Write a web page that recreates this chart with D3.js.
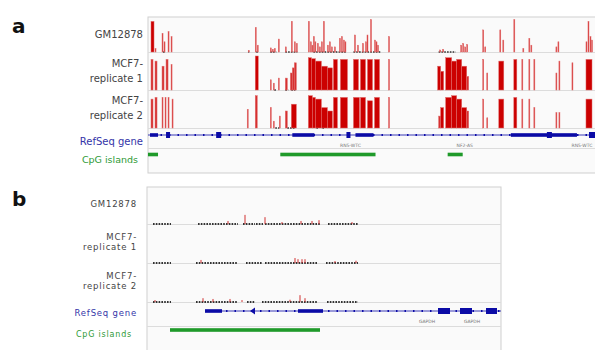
<!DOCTYPE html>
<html>
<head>
<meta charset="utf-8">
<script src="https://cdn.jsdelivr.net/npm/d3@7"></script>
<style>
  body { margin: 0; background: #fff; }
  text { font-family: "DejaVu Sans", sans-serif; }
</style>
</head>
<body>
<div id="chart"></div>
<script>
// track labels
const trackLabels = [["GM12878"], ["MCF7-", "replicate 1"], ["MCF7-", "replicate 2"]];
const geneLabel = "RefSeq gene";
const cpgLabel = "CpG islands";

// panel a: methylation bars [start, end, level], positions in kb from window start
const aGM = [[3,6,0.9],[7,8,0.1],[14,15,0.55],[16,17,0.3],[20,21,0.6],[23,24,0.45],[100,101,0.05],
  [107,108,0.72],[109,110,0.2],[122,123,0.12],[124,125,0.08],[126,127,0.1],[130,131,0.38],[137,138,0.15],
  [143,144,0.9],[146,147,0.3],[148,149,0.25],[160,161,0.9],[162,163,0.3],[163.5,164.5,0.2],[165,166,0.45],
  [166.5,167.5,0.3],[169,170,0.25],[171,172,0.15],[173,174,0.3],[175,176,0.9],[179,180,0.2],[181,182,0.3],
  [183,184,0.15],[186,187,0.15],[191,192,0.4],[193,194,0.45],[195,196,0.35],[196.5,197.5,0.3],
  [206,207,0.5],[209,210,0.2],[214,215,0.25],[217,218,0.3],[218.5,219.5,0.5],[222,223,0.95],
  [226,227,0.35],[227.5,228.5,0.3],[229,230,0.2],[240,241,0.45],[291,292,0.06],[294,295,0.08],
  [312,313,0.2],[314,315,0.25],[316,317,0.15],[318,319,0.22],[334,335,0.65],[336,337,0.15],[351,352,0.65],
  [354,355,0.35],[365,366,0.95],[374,375,0.1],[380,381,0.4],[382,383,0.2],[407,408,0.15],[409,410,0.3],
  [437,438,0.3],[439,440,0.9],[441,442,0.45],[442.5,443.5,0.35]];
const aRep1 = [[3,5,0.9],[7,9,0.85],[14,16,0.7],[18,20,0.9],[23,24,0.75],[107,110,1.0],
  [122,123,0.3],[125,126,0.2],[130,131,0.35],[137,139,0.35],[142,144,0.5],[144,146,0.65],[146,148,0.8],
  [160,163,0.95],[163,167,0.92],[167,173,0.85],[173,179,0.7],[179,184,0.65],[185,189,0.9],[192,199,0.9],
  [205,210,0.9],[212,217,0.9],[219,224,0.9],[226,231,0.9],[240,241,0.9],[289,292,0.7],[292,295,0.55],
  [297,303,0.95],[303,308,0.85],[308,313,0.9],[313,318,0.7],[318,320,0.4],
  [334,335,0.9],[338,339,0.5],[350,355,0.85],[365,368,0.9],[373,374,0.9],[380,381,0.9],[385,386,0.9],
  [407,408,0.5],[410,411,0.85],[423,424,0.8],[437,443,0.9]];
const aRep2 = [[3,5,0.85],[7,9,0.9],[14,15,0.9],[17,18,0.9],[20,21,0.9],[24,25,0.85],
  [99,100,0.55],[107,109,0.95],[122,123,0.6],[125,126,0.2],[131,132,0.35],[137,139,0.5],[143,148,0.7],
  [160,164,0.95],[164,167,0.9],[167,173,0.85],[173,179,0.6],[179,184,0.5],[185,189,0.9],[192,199,0.9],
  [205,211,0.9],[212,217,0.9],[219,224,0.8],[226,231,0.9],[240,241,0.9],[290,292,0.35],[292,295,0.6],
  [297,303,0.9],[303,308,0.95],[308,313,0.85],[313,318,0.6],[318,320,0.5],
  [334,335,0.85],[338,339,0.3],[350,355,0.85],[365,368,0.9],[373,374,0.85],[380,381,0.85],[385,386,0.6],
  [407,408,0.45],[410,411,0.45],[437,443,0.85]];
// unmethylated CpG sites (black marks on the baseline) [start, end]
const aGMSites = [[15,17],[100,101],[108,110],[122,128],[137,149],[165,198],[205,232],[290,307]];
const aRep1Sites = [[126,128],[137,140],[143,147]];
const aRep2Sites = [[127,131],[139,147],[168,170],[174,176]];
// panel a gene model
const aIntron = [0, 447];
const aThick = [[2,10],[144,166],[207,225],[362,399],[402,428]];
const aExons = [[18,22],[68,73],[198,202],[398,403],[440,447]];
const aGeneNames = [[202,"RN5-WTC"],[316,"NF2-AS"],[433,"RN5-WTC"]];
const aCpG = [[0,10],[132,227],[299,314]];

// panel b: mostly unmethylated, small red bars [pos, level]
const bGMSites = [[6,24],[51,91],[96,108],[109,116],[118,173],[181,211]];
const bRep1Sites = [[6,24],[49,91],[99,115],[118,171],[179,211]];
const bRep2Sites = [[6,24],[49,91],[100,108],[115,171],[180,211]];
const bGM = [[81,0.08],[98,0.24],[118,0.18],[135,0.05],[154,0.08],[165,0.08],[172,0.1],[205,0.05]];
const bRep1 = [[54,0.08],[148,0.13],[151,0.1],[155,0.1],[158,0.1],[188,0.05],[209,0.06]];
const bRep2 = [[8,0.05],[56,0.1],[66,0.08],[83,0.08],[95,0.05],[143,0.06],[153,0.18],[158,0.1]];
const bIntron = [58, 354];
const bThick = [[58,75],[151,176]];
const bExons = [[291,303],[313,325],[339,350]];
const bArrow = 103;
const bGeneNames = [[280,"GAPDH"],[325,"GAPDH"]];
const bCpG = [[23,173]];

const width = 595, height = 350;
const red = "#cc0000", lightRed = "#e06a6a", blue = "#0b0ba6", green = "#1f9a2a";

const svg = d3.select("#chart").append("svg")
  .attr("width", width)
  .attr("height", height);

function drawPanel(p) {
  const g = svg.append("g");
  const x = d3.scaleLinear().domain(p.domain).range([p.left, p.right]);

  // frame
  g.append("rect")
    .attr("x", p.left).attr("y", p.top)
    .attr("width", p.right - p.left).attr("height", p.bottom - p.top)
    .attr("fill", "#fafafa").attr("stroke", "#cfcfcf").attr("stroke-width", 1);

  g.append("text")
    .attr("x", 12).attr("y", p.letterY)
    .attr("font-size", 20).attr("font-weight", "bold")
    .attr("fill", "#111")
    .text(p.letter);

  // tracks
  p.tracks.forEach((t, i) => {
    const base = p.baselines[i];
    const y = d3.scaleLinear().domain([0, 1]).range([base, base - p.trackH]);

    g.append("line")
      .attr("x1", p.left).attr("x2", p.right)
      .attr("y1", base + 0.5).attr("y2", base + 0.5)
      .attr("stroke", "#dcdcdc");

    g.append("g").selectAll("line")
      .data(t.sites)
      .join("line")
      .attr("x1", d => x(d[0])).attr("x2", d => x(d[1]))
      .attr("y1", base).attr("y2", base)
      .attr("stroke", "#333").attr("stroke-width", p.siteW)
      .attr("stroke-dasharray", "1.6,1.2");

    if (t.bars) {
      g.append("g").selectAll("rect")
        .data(t.bars)
        .join("rect")
        .attr("x", d => x(d[0]))
        .attr("width", d => Math.max(1, x(d[1]) - x(d[0])))
        .attr("y", d => y(d[2]))
        .attr("height", d => y(0) - y(d[2]))
        .attr("fill", d => (d[1] - d[0]) > 2 ? red : "#d63030")
        .attr("stroke", lightRed).attr("stroke-width", 0.5);
    }
    if (t.ticks) {
      g.append("g").selectAll("line")
        .data(t.ticks)
        .join("line")
        .attr("x1", d => x(d[0])).attr("x2", d => x(d[0]))
        .attr("y1", base).attr("y2", d => y(d[1]))
        .attr("stroke", "#d03030").attr("stroke-width", 1);
    }

    // label
    const lab = g.append("text")
      .attr("x", p.labelX)
      .attr("text-anchor", "end")
      .attr("font-size", p.fontSize)
      .attr("letter-spacing", p.spacing)
      .attr("fill", "#444");
    const lines = trackLabels[i];
    lines.forEach((s, j) => {
      lab.append("tspan")
        .attr("x", p.labelX)
        .attr("y", p.labelY[i] + (j - (lines.length - 1) / 2) * p.lineH)
        .attr("dy", "0.35em")
        .text(s);
    });
  });

  // gene track
  g.append("line")
    .attr("x1", x(p.intron[0])).attr("x2", x(p.intron[1]))
    .attr("y1", p.geneY).attr("y2", p.geneY)
    .attr("stroke", blue).attr("stroke-width", 0.8);
  g.append("line")
    .attr("x1", x(p.intron[0]) + 4).attr("x2", x(p.intron[1]))
    .attr("y1", p.geneY).attr("y2", p.geneY)
    .attr("stroke", blue).attr("stroke-width", 2.2)
    .attr("stroke-dasharray", "1.5,7");
  g.append("g").selectAll("rect")
    .data(p.thick)
    .join("rect")
    .attr("x", d => x(d[0])).attr("width", d => x(d[1]) - x(d[0]))
    .attr("y", p.geneY - 1.8).attr("height", 3.6)
    .attr("fill", blue);
  g.append("g").selectAll("rect")
    .data(p.exons)
    .join("rect")
    .attr("x", d => x(d[0])).attr("width", d => x(d[1]) - x(d[0]))
    .attr("y", p.geneY - 3).attr("height", 6)
    .attr("fill", blue);
  if (p.arrow != null) {
    const ax = x(p.arrow);
    g.append("path")
      .attr("d", `M${ax},${p.geneY} L${ax + 5},${p.geneY - 3.5} L${ax + 5},${p.geneY + 3.5} Z`)
      .attr("fill", blue);
  }
  g.append("g").selectAll("text")
    .data(p.geneNames)
    .join("text")
    .attr("x", d => x(d[0])).attr("y", p.geneY + 12)
    .attr("text-anchor", "middle")
    .attr("font-size", 4.5).attr("fill", "#777")
    .text(d => d[1]);

  g.append("line")
    .attr("x1", p.left).attr("x2", p.right)
    .attr("y1", p.sepY + 0.5).attr("y2", p.sepY + 0.5)
    .attr("stroke", "#dcdcdc");

  // CpG islands
  g.append("g").selectAll("rect")
    .data(p.cpg)
    .join("rect")
    .attr("x", d => x(d[0])).attr("width", d => x(d[1]) - x(d[0]))
    .attr("y", p.cpgY - 1.8).attr("height", 3.6)
    .attr("fill", green);

  g.append("text")
    .attr("x", p.labelX).attr("y", p.geneLabelY).attr("dy", "0.35em")
    .attr("text-anchor", "end").attr("font-size", p.fontSize)
    .attr("letter-spacing", p.spacing)
    .attr("fill", "#3434a8")
    .text(geneLabel);
  g.append("text")
    .attr("x", p.labelX - 5).attr("y", p.cpgLabelY).attr("dy", "0.35em")
    .attr("text-anchor", "end").attr("font-size", p.fontSize - 0.5)
    .attr("letter-spacing", p.spacing)
    .attr("fill", "#2e9a36")
    .text(cpgLabel);
}

drawPanel({
  letter: "a", letterY: 33,
  domain: [0, 447], left: 148, right: 596, top: 17, bottom: 173,
  baselines: [52, 90, 128], trackH: 34,
  tracks: [
    { bars: aGM, sites: aGMSites },
    { bars: aRep1, sites: aRep1Sites },
    { bars: aRep2, sites: aRep2Sites }
  ],
  labelX: 143, labelY: [34, 71, 108], lineH: 15, fontSize: 10, spacing: 0, siteW: 1.6,
  intron: aIntron, thick: aThick, exons: aExons, arrow: null, geneNames: aGeneNames,
  geneY: 135, sepY: 148, cpg: aCpG, cpgY: 154.5,
  geneLabelY: 141, cpgLabelY: 160
});

drawPanel({
  letter: "b", letterY: 206,
  domain: [0, 354], left: 147, right: 501, top: 187, bottom: 352,
  baselines: [224, 263, 302], trackH: 38,
  tracks: [
    { ticks: bGM, sites: bGMSites },
    { ticks: bRep1, sites: bRep1Sites },
    { ticks: bRep2, sites: bRep2Sites }
  ],
  labelX: 137, labelY: [204, 242, 281], lineH: 10, fontSize: 8.5, spacing: 0.8, siteW: 2,
  intron: bIntron, thick: bThick, exons: bExons, arrow: bArrow, geneNames: bGeneNames,
  geneY: 311, sepY: 326, cpg: bCpG, cpgY: 330,
  geneLabelY: 313, cpgLabelY: 334
});
</script>
</body>
</html>
